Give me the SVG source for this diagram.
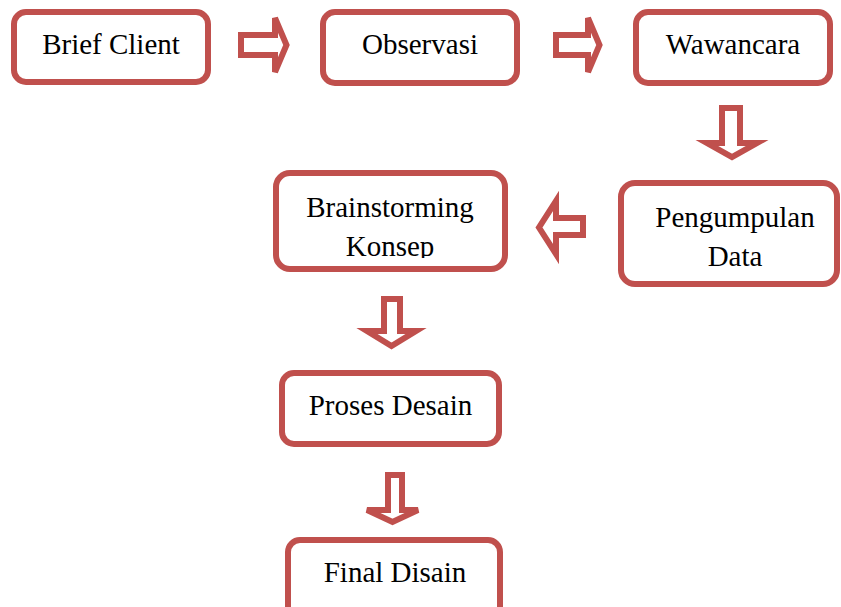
<svg xmlns="http://www.w3.org/2000/svg" width="841" height="607" viewBox="0 0 841 607">
  <style>
    .box { fill: #ffffff; stroke: #C0504D; stroke-width: 6; }
    .arrow { fill: #ffffff; stroke: #C0504D; stroke-width: 6; stroke-linejoin: miter; }
    .lbl { font-family: "Liberation Serif", "Times New Roman", serif; font-size: 29px; fill: #000000; text-anchor: middle; }
  </style>
  <defs>
    <clipPath id="clipKonsep">
      <rect x="276" y="173" width="229" height="85"/>
    </clipPath>
  </defs>
  <rect x="0" y="0" width="841" height="607" fill="#ffffff"/>

  <g id="connectors">
    <path class="arrow" d="M241,35 H275 V18 L286.5,45 L275,72 V55 H241 Z"/>
    <path class="arrow" d="M556,35 H588 V18 L599.5,45 L588,72 V55 H556 Z"/>
    <path class="arrow" d="M722,108 V143 H707 L732,157 L757,143 H740 V108 Z"/>
    <path class="arrow" d="M583,218 H556 V201 L539,227.5 L556,254 V235 H583 Z"/>
    <path class="arrow" d="M384,299 V331 H367 L391.5,346 L416,331 H400 V299 Z"/>
    <path class="arrow" d="M388,475 V510 H367 L392.5,522 L418,510 H402 V475 Z"/>
  </g>

  <g id="brief-client">
    <rect class="box" x="14" y="12" width="194" height="70" rx="12"/>
    <text class="lbl" x="111" y="54">Brief Client</text>
  </g>
  <g id="observasi">
    <rect class="box" x="323" y="12" width="194" height="71" rx="12"/>
    <text class="lbl" x="420" y="54">Observasi</text>
  </g>
  <g id="wawancara">
    <rect class="box" x="636" y="12" width="194" height="71" rx="12"/>
    <text class="lbl" x="733" y="54">Wawancara</text>
  </g>
  <g id="pengumpulan-data">
    <rect class="box" x="621" y="183" width="216" height="101" rx="14"/>
    <text class="lbl" x="735" y="227">Pengumpulan</text>
    <text class="lbl" x="735" y="266">Data</text>
  </g>
  <g id="brainstorming-konsep">
    <rect class="box" x="276" y="173" width="229" height="96" rx="14"/>
    <text class="lbl" x="390" y="217">Brainstorming</text>
    <text class="lbl" x="390" y="256" clip-path="url(#clipKonsep)">Konsep</text>
  </g>
  <g id="proses-desain">
    <rect class="box" x="282" y="373" width="217" height="71" rx="12"/>
    <text class="lbl" x="390.5" y="415">Proses Desain</text>
  </g>
  <g id="final-disain">
    <rect class="box" x="288" y="540" width="212" height="80" rx="12"/>
    <text class="lbl" x="395" y="582">Final Disain</text>
  </g>
</svg>
